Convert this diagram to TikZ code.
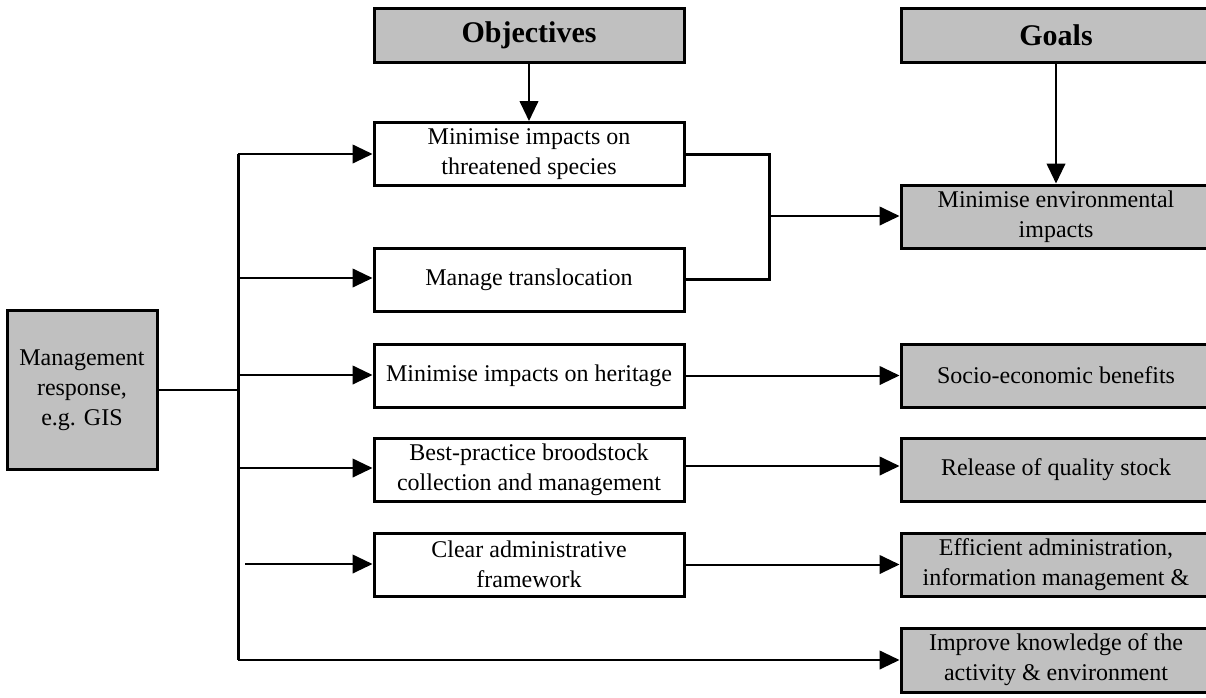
\documentclass[tikz,border=0pt]{standalone}
\usepackage{fontspec}
\setmainfont{Liberation Serif}
\usetikzlibrary{arrows.meta}
\definecolor{boxgray}{HTML}{C0C0C0}
\tikzset{
  box/.style={draw=black, line width=2.25pt, minimum width=310*0.75pt, minimum height=63*0.75pt,
    inner sep=0pt, align=center, font=\fontsize{18}{22.5}\selectfont},
  graybox/.style={box, fill=boxgray},
  headbox/.style={graybox, minimum height=54*0.75pt, font=\fontsize{22.5}{27}\selectfont\bfseries},
  conn/.style={line width=1.5pt, -{Triangle[length=15pt,width=14pt]}},
  bus/.style={line width=2.25pt},
  plain/.style={line width=1.5pt},
}
\begin{document}
\begin{tikzpicture}[x=0.75pt,y=-0.75pt]
\useasboundingbox (0,0) rectangle (1206,697);
\clip (0,0) rectangle (1206,697);
% headers
\node[headbox] (obj) at (529,35) {Objectives};
\node[headbox] (goals) at (1056,35) {Goals};
% objectives
\node[box] (o1) at (529,154) {Minimise impacts on\\threatened species};
\node[box] (o2) at (529,280) {Manage translocation};
\node[box] (o3) at (529,375.5) {Minimise impacts on heritage};
\node[box] (o4) at (529,469.5) {Best-practice broodstock\\collection and management};
\node[box] (o5) at (529,564.5) {Clear administrative\\framework};
% management
\node[graybox, minimum width=150*0.75pt, minimum height=159*0.75pt] (mg) at (82,390) {Management\\response,\\e.g. GIS};
% goals
\node[graybox] (g1) at (1056,216.5) {Minimise environmental\\impacts};
\node[graybox] (g2) at (1056,375.5) {Socio-economic benefits};
\node[graybox] (g3) at (1056,469.5) {Release of quality stock};
\node[graybox] (g4) at (1056,564.5) {Efficient administration,\\information management \&};
\node[graybox, minimum height=64*0.75pt] (g5) at (1056,660) {Improve knowledge of the\\activity \& environment};
% bus
\coordinate (bt) at (238,154);
\coordinate (bb) at (238,660);
\coordinate (bm) at (238,390);
\draw[bus] (bt) -- (bb);
\draw[plain] (mg.east |- bm) -- (bm);
\draw[conn] (bt) -- (o1.west |- bt);
\draw[conn] (238,278) -- (o2.west |- 0,278);
\draw[conn] (238,375) -- (o3.west |- 0,375);
\draw[conn] (238,468) -- (o4.west |- 0,468);
\draw[conn] (245,564) -- (o5.west |- 0,564);
\draw[conn] (bb) -- (g5.west |- bb);
% headers arrows
\draw[conn] (obj.south) -- (o1.north);
\draw[conn] (goals.south) -- (g1.north);
% bracket
\coordinate (k1) at (769,154);
\coordinate (k2) at (769,279);
\coordinate (km) at (769,216);
\draw[bus] (o1.east |- k1) -- (k1) -- (k2) -- (o2.east |- k2);
\draw[conn] (km) -- (g1.west |- km);
% other links
\draw[conn] (o3.east) -- (g2.west);
\draw[conn] (o4.east |- 0,466) -- (g3.west |- 0,466);
\draw[conn] (o5.east) -- (g4.west);
\end{tikzpicture}
\end{document}
